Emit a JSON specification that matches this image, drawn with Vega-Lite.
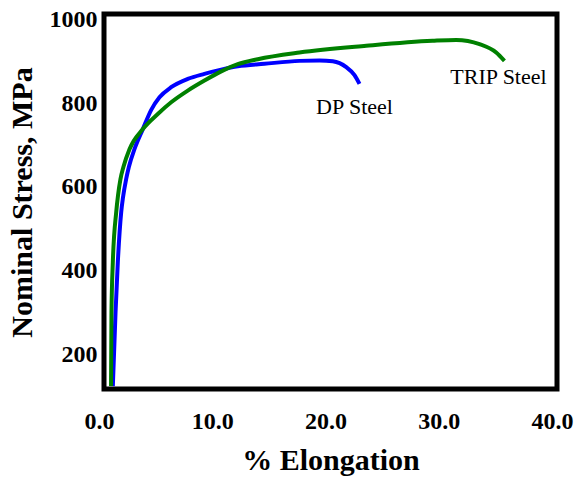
{
  "$schema": "https://vega.github.io/schema/vega-lite/v6.json",
  "width": 453,
  "height": 375,
  "autosize": {"type": "none"},
  "padding": {"left": 104, "top": 14, "right": 25, "bottom": 88},
  "background": "white",
  "config": {
    "view": {"stroke": "black", "strokeWidth": 5},
    "axis": {
      "grid": false, "domain": false, "ticks": false, "labelFlush": false,
      "labelFont": "Liberation Serif", "labelFontWeight": "bold", "labelFontSize": 24, "labelColor": "black",
      "titleFont": "Liberation Serif", "titleFontWeight": "bold", "titleFontSize": 30, "titleColor": "black"
    }
  },
  "datasets": {
    "curves": [
      {"steel": "DP", "e": 0.78, "s": 124},
      {"steel": "DP", "e": 1.02, "s": 301},
      {"steel": "DP", "e": 1.22, "s": 420},
      {"steel": "DP", "e": 1.52, "s": 540},
      {"steel": "DP", "e": 1.68, "s": 575},
      {"steel": "DP", "e": 1.96, "s": 619},
      {"steel": "DP", "e": 2.2, "s": 648},
      {"steel": "DP", "e": 2.69, "s": 690},
      {"steel": "DP", "e": 3.43, "s": 738},
      {"steel": "DP", "e": 4.17, "s": 784},
      {"steel": "DP", "e": 4.9, "s": 814},
      {"steel": "DP", "e": 5.93, "s": 838},
      {"steel": "DP", "e": 7.4, "s": 858},
      {"steel": "DP", "e": 8.87, "s": 870},
      {"steel": "DP", "e": 10.35, "s": 880},
      {"steel": "DP", "e": 11.81, "s": 888},
      {"steel": "DP", "e": 14.17, "s": 894},
      {"steel": "DP", "e": 17.26, "s": 901},
      {"steel": "DP", "e": 19.03, "s": 902},
      {"steel": "DP", "e": 20.2, "s": 900},
      {"steel": "DP", "e": 21.39, "s": 886},
      {"steel": "DP", "e": 22.12, "s": 867},
      {"steel": "DP", "e": 22.56, "s": 846},
      {"steel": "TRIP", "e": 0.62, "s": 124},
      {"steel": "TRIP", "e": 0.66, "s": 301},
      {"steel": "TRIP", "e": 0.78, "s": 420},
      {"steel": "TRIP", "e": 1.08, "s": 540},
      {"steel": "TRIP", "e": 1.24, "s": 580},
      {"steel": "TRIP", "e": 1.45, "s": 618},
      {"steel": "TRIP", "e": 1.72, "s": 648},
      {"steel": "TRIP", "e": 2.25, "s": 690},
      {"steel": "TRIP", "e": 3.43, "s": 738},
      {"steel": "TRIP", "e": 4.75, "s": 774},
      {"steel": "TRIP", "e": 5.93, "s": 802},
      {"steel": "TRIP", "e": 7.4, "s": 830},
      {"steel": "TRIP", "e": 8.87, "s": 854},
      {"steel": "TRIP", "e": 10.35, "s": 876},
      {"steel": "TRIP", "e": 11.81, "s": 893},
      {"steel": "TRIP", "e": 13.58, "s": 905},
      {"steel": "TRIP", "e": 17.26, "s": 921},
      {"steel": "TRIP", "e": 23.15, "s": 937},
      {"steel": "TRIP", "e": 29.0, "s": 949},
      {"steel": "TRIP", "e": 31.1, "s": 951},
      {"steel": "TRIP", "e": 33.16, "s": 941},
      {"steel": "TRIP", "e": 34.63, "s": 921},
      {"steel": "TRIP", "e": 35.36, "s": 901}
    ],
    "labels": [
      {"label": "DP Steel", "e": 22.12, "s": 790},
      {"label": "TRIP Steel", "e": 34.83, "s": 862}
    ]
  },
  "layer": [
    {
      "data": {"name": "curves"},
      "mark": {"type": "line", "strokeWidth": 4, "interpolate": "monotone", "clip": true},
      "encoding": {
        "x": {
          "field": "e", "type": "quantitative",
          "scale": {"domain": [0, 40], "nice": false, "zero": false},
          "axis": {
            "values": [0, 10, 20, 30, 40], "format": ".1f", "labelPadding": 20, "labelOffset": -5,
            "title": "% Elongation", "titleY": 80, "titleBaseline": "alphabetic"
          }
        },
        "y": {
          "field": "s", "type": "quantitative",
          "scale": {"domain": [117, 1013], "nice": false, "zero": false},
          "axis": {
            "values": [200, 400, 600, 800, 1000], "format": "d", "labelPadding": 7,
            "title": "Nominal Stress, MPa", "titleX": -82, "titleY": 188, "titleBaseline": "middle", "titleAngle": -90
          }
        },
        "color": {
          "field": "steel", "type": "nominal",
          "scale": {"domain": ["DP", "TRIP"], "range": ["#0000ff", "#008000"]},
          "legend": null
        },
        "order": {"field": "e", "type": "quantitative"}
      }
    },
    {
      "data": {"name": "labels"},
      "mark": {"type": "text", "font": "Liberation Serif", "fontSize": 22, "color": "black", "baseline": "middle", "align": "center"},
      "encoding": {
        "x": {"field": "e", "type": "quantitative"},
        "y": {"field": "s", "type": "quantitative"},
        "text": {"field": "label"}
      }
    }
  ]
}
